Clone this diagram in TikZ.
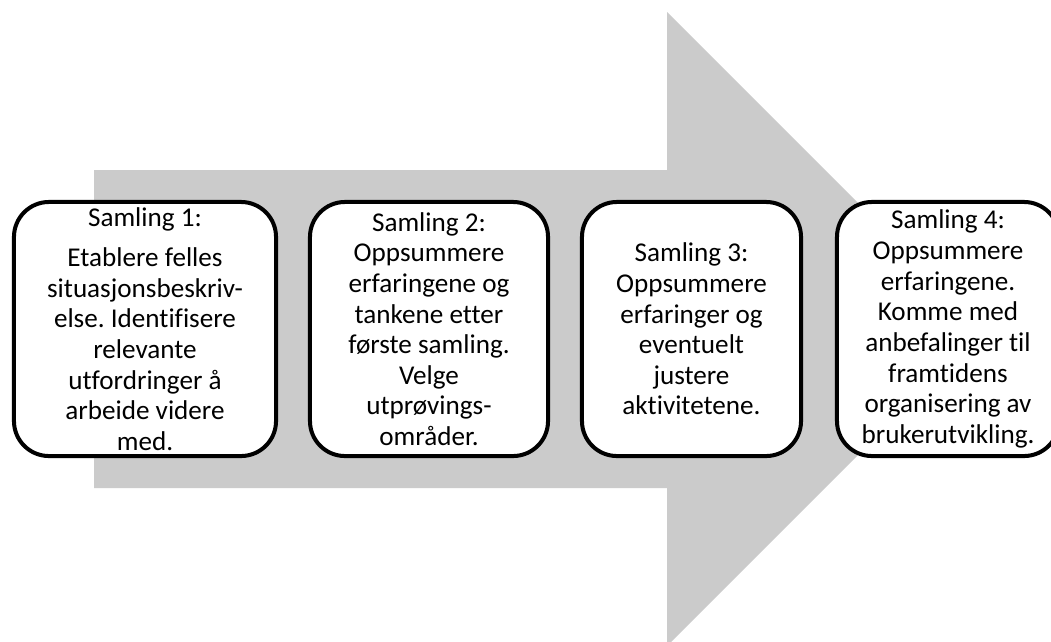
\documentclass[tikz,border=0pt]{standalone}
\usepackage{fontspec}
\setmainfont[Ligatures={NoCommon}]{Carlito}
\frenchspacing
\definecolor{arrowgray}{HTML}{CBCBCB}
\tikzset{
    samling/.style={draw, line width=2.85pt, rounded corners=0.875cm, fill=white,
        align=center, inner sep=0pt, minimum height=6.35cm,
        font=\fontsize{19.3}{21.8}\selectfont},
}

\begin{document}
\begin{tikzpicture}[x=0.025cm, y=-0.025cm]
            \useasboundingbox (0,0) rectangle (1051,641);
            \clip (0,0) rectangle (1051,641);
            % big arrow behind the boxes
            \fill[arrowgray] (94,170) -- (667,170) -- (667,12) -- (984,329)
                -- (667,646) -- (667,488) -- (94,488) -- cycle;
            % the four meetings
            \node[samling, minimum width=6.55cm]  (samling1) at (145,329)
                {Samling 1:\\[7pt] Etablere felles\\ situasjonsbeskriv-\\ else. Identifisere\\ relevante\\ utfordringer å\\ arbeide videre\\ med.};
            \node[samling, minimum width=5.95cm]  (samling2) at (429,329)
                {Samling 2:\\ Oppsummere\\ erfaringene og\\ tankene etter\\ første samling.\\ Velge\\ utprøvings-\\ områder.};
            \node[samling, minimum width=5.475cm] (samling3) at (691.5,329)
                {Samling 3:\\ Oppsummere\\ erfaringer og\\ eventuelt\\ justere\\ aktivitetene.};
            \node[samling, minimum width=5.55cm]  (samling4) at (948,329)
                {Samling 4:\\ Oppsummere\\ erfaringene.\\ Komme med\\ anbefalinger til\\ framtidens\\ organisering av\\ brukerutvikling.};
        \end{tikzpicture}
\end{document}
